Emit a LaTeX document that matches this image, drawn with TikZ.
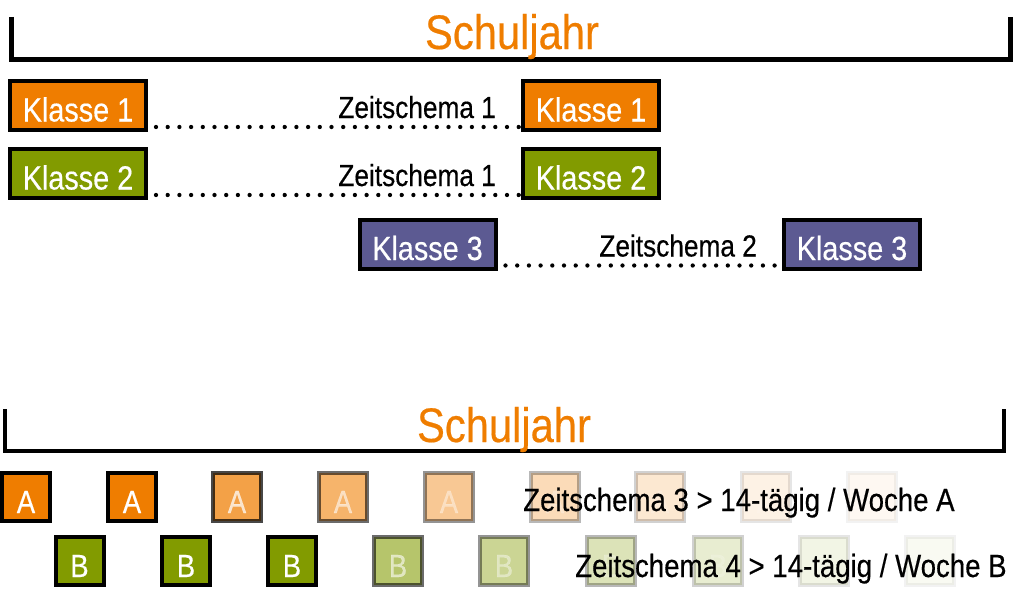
\documentclass[tikz,border=0pt]{standalone}
\usepackage{fontspec}
\setmainfont[FakeStretch=0.86,FakeBold=0.4]{Liberation Sans}
\usepackage{tikz}
\usetikzlibrary{calc}
\definecolor{sjorange}{RGB}{239,125,0}
\definecolor{sjgreen}{RGB}{130,155,0}
\definecolor{sjviolet}{RGB}{92,90,146}
\tikzset{
         klasse/.style={draw=black,line width=4pt,text=white,inner sep=0pt,
                        minimum width=136pt,minimum height=49pt,
                        text height=32pt,text depth=0pt,font=\fontsize{33.5}{33.5}\selectfont},
         woche/.style={draw=black,line width=4pt,text=white,inner sep=0pt,
                       minimum width=48pt,minimum height=48pt,
                       text height=32pt,text depth=0pt,font=\fontsize{32}{32}\selectfont},
         zeitlinie/.style={line width=4.3pt,line cap=round,dash pattern=on 0pt off 11.7pt,shorten <=8pt},
         zeitlabel/.style={anchor=base east,inner sep=0pt,xshift=-23pt,yshift=9pt,
                           font=\fontsize{30.5}{30.5}\selectfont},
         zeittext/.style={anchor=base west,inner sep=0pt,font=\fontsize{32.1}{32.1}\selectfont},
         jahr/.style={line width=4.5pt},
         jahrlabel/.style={anchor=base,inner sep=0pt,text=sjorange,font=\fontsize{48.5}{48.5}\selectfont}
        }

\begin{document}
\begin{tikzpicture}[x=1pt,y=-1pt]
\useasboundingbox(0,0)rectangle(1014,610);
% oben: zwei Zeitschemata
\draw[jahr](11.5,17)--(11.5,59.5)--(1010.5,59.5)--(1010.5,17);
\node[jahrlabel](jahr1)at(512,49){Schuljahr};
\node[klasse,fill=sjorange](k1a)at(78,105.5){Klasse 1};
\node[klasse,fill=sjorange](k1b)at(591,105.5){Klasse 1};
\node[klasse,fill=sjgreen](k2a)at(78,173.5){Klasse 2};
\node[klasse,fill=sjgreen](k2b)at(591,173.5){Klasse 2};
\node[klasse,fill=sjviolet](k3a)at(427.5,244){Klasse 3};
\node[klasse,fill=sjviolet](k3b)at(852,244){Klasse 3};
\draw[zeitlinie]([yshift=5pt]k1a.south east)--([yshift=5pt]k1b.south west)node[zeitlabel]{Zeitschema 1};
\draw[zeitlinie]([yshift=5pt]k2a.south east)--([yshift=5pt]k2b.south west)node[zeitlabel]{Zeitschema 1};
\draw[zeitlinie]([yshift=5pt]k3a.south east)--([yshift=5pt]k3b.south west)node[zeitlabel]{Zeitschema 2};
% unten: 14-taegig
\draw[jahr](5,409)--(5,451)--(1004,451)--(1004,409);
\node[jahrlabel](jahr2)at(504,442){Schuljahr};
\node[woche,fill=sjorange](a1)at(26,497){A};
\node[woche,fill=sjorange](a2)at(132,497){A};
\node[woche,fill=sjorange,opacity=.72](a3)at(237,497){A};
\node[woche,fill=sjorange,opacity=.58](a4)at(343,497){A};
\node[woche,fill=sjorange,opacity=.42](a5)at(449,497){A};
\node[woche,fill=sjorange,opacity=.28](a6)at(555,497){A};
\node[woche,fill=sjorange,opacity=.18](a7)at(660,497){A};
\node[woche,fill=sjorange,opacity=.1](a8)at(766,497){A};
\node[woche,fill=sjorange,opacity=.05](a9)at(872,497){A};
\node[woche,fill=sjgreen](b1)at(79.5,561){B};
\node[woche,fill=sjgreen](b2)at(186,561){B};
\node[woche,fill=sjgreen](b3)at(292,561){B};
\node[woche,fill=sjgreen,opacity=.58](b4)at(398,561){B};
\node[woche,fill=sjgreen,opacity=.42](b5)at(504,561){B};
\node[woche,fill=sjgreen,opacity=.28](b6)at(611,561){B};
\node[woche,fill=sjgreen,opacity=.18](b7)at(718,561){B};
\node[woche,fill=sjgreen,opacity=.1](b8)at(824,561){B};
\node[woche,fill=sjgreen,opacity=.05](b9)at(930,561){B};
\node[zeittext](zs3)at(523,511){Zeitschema 3 > 14-tägig / Woche A};
\node[zeittext](zs4)at(575,577){Zeitschema 4 > 14-tägig / Woche B};
\end{tikzpicture}
\end{document}
